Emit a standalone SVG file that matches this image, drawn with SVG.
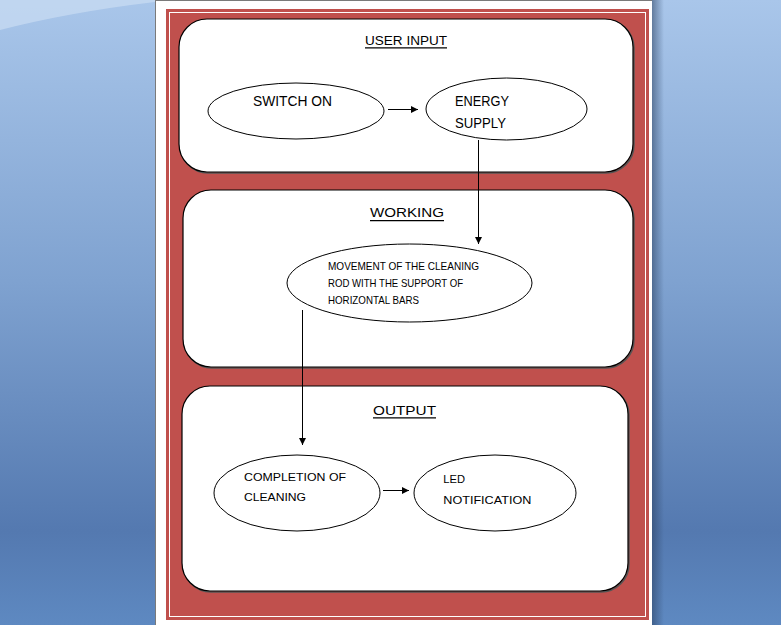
<svg xmlns="http://www.w3.org/2000/svg" width="781" height="625" viewBox="0 0 781 625">
<defs>
<linearGradient id="bg" x1="0" y1="0" x2="0" y2="1">
<stop offset="0" stop-color="#a9c6ea"/>
<stop offset="0.45" stop-color="#7fa2d0"/>
<stop offset="0.85" stop-color="#5479b0"/>
<stop offset="1" stop-color="#5e89c1"/>
</linearGradient>
<linearGradient id="shadowR" x1="0" y1="0" x2="1" y2="0">
<stop offset="0" stop-color="#2a4060" stop-opacity="0.55"/>
<stop offset="1" stop-color="#2a4060" stop-opacity="0"/>
</linearGradient>
<marker id="arr" markerWidth="8" markerHeight="8" refX="7" refY="3.5" orient="auto" markerUnits="userSpaceOnUse">
<path d="M0,0 L7,3.5 L0,7 Z" fill="#000"/>
</marker>
<style>
.box{fill:#fff;stroke:#000;stroke-width:1.2}
.boxsh{fill:none;stroke:#555;stroke-width:1.5}
.ell{fill:#fff;stroke:#000;stroke-width:1}
.t{font-family:"Liberation Sans",Arial,sans-serif;fill:#000}
.title{font-size:13.5px}
.big{font-size:14px}
.sm{font-size:11px}
.md{font-size:11.8px}
.ul{stroke:#000;stroke-width:1.2}
.con{stroke:#000;stroke-width:1;fill:none}
</style>
</defs>
<!-- desktop background -->
<rect x="0" y="0" width="781" height="625" fill="url(#bg)"/>
<path d="M0,0 L155,0 L155,2 Q70,12 0,30 Z" fill="#c6daf1" opacity="0.8"/>
<!-- page -->
<rect x="652" y="0" width="12" height="625" fill="url(#shadowR)"/>
<rect x="155" y="0" width="497" height="625" fill="#fff"/>
<line x1="155.5" y1="0" x2="155.5" y2="625" stroke="#7a7a7a" stroke-width="1"/>
<line x1="155" y1="0.5" x2="652" y2="0.5" stroke="#7a7a7a" stroke-width="1"/>
<!-- red frame -->
<rect x="166" y="9" width="483" height="611" fill="#c0504d"/>
<rect x="169.5" y="12.5" width="476" height="604" fill="none" stroke="#fff" stroke-width="1"/>

<g id="section-user-input">
<rect class="boxsh" x="180" y="20" width="454" height="153" rx="28" ry="28"/>
<rect class="box" x="179" y="19" width="454" height="153" rx="28" ry="28"/>
<text class="t title" x="365" y="45" textLength="82" lengthAdjust="spacingAndGlyphs">USER INPUT</text>
<line class="ul" x1="365" y1="47.8" x2="447" y2="47.8"/>
</g>
<g id="section-working">
<rect class="boxsh" x="184" y="191" width="450" height="177" rx="28" ry="28"/>
<rect class="box" x="183" y="190" width="450" height="177" rx="28" ry="28"/>
<text class="t title" x="370" y="217" textLength="74" lengthAdjust="spacingAndGlyphs">WORKING</text>
<line class="ul" x1="370" y1="220.6" x2="444" y2="220.6"/>
</g>
<g id="section-output">
<rect class="boxsh" x="183" y="387" width="446" height="205" rx="28" ry="28"/>
<rect class="box" x="182" y="386" width="446" height="205" rx="28" ry="28"/>
<text class="t title" x="373" y="415" textLength="63" lengthAdjust="spacingAndGlyphs">OUTPUT</text>
<line class="ul" x1="373" y1="417.8" x2="436" y2="417.8"/>
</g>

<g id="switch-on">
<ellipse class="ell" cx="296" cy="111" rx="88" ry="28"/>
<text class="t big" x="253" y="105.5" textLength="79" lengthAdjust="spacingAndGlyphs">SWITCH ON</text>
</g>
<g id="energy-supply">
<ellipse class="ell" cx="506.5" cy="109" rx="80.5" ry="31"/>
<text class="t big" x="455" y="105.5" textLength="54" lengthAdjust="spacingAndGlyphs">ENERGY</text>
<text class="t big" x="455" y="127.7" textLength="51" lengthAdjust="spacingAndGlyphs">SUPPLY</text>
</g>
<g id="movement">
<ellipse class="ell" cx="409.5" cy="283" rx="122.5" ry="39"/>
<text class="t sm" x="328" y="270" textLength="151" lengthAdjust="spacingAndGlyphs">MOVEMENT OF THE CLEANING</text>
<text class="t sm" x="328" y="287" textLength="135" lengthAdjust="spacingAndGlyphs">ROD WITH THE SUPPORT OF</text>
<text class="t sm" x="328" y="303.7" textLength="91" lengthAdjust="spacingAndGlyphs">HORIZONTAL BARS</text>
</g>
<g id="completion">
<ellipse class="ell" cx="297" cy="493" rx="83" ry="38"/>
<text class="t md" x="244" y="481" textLength="102" lengthAdjust="spacingAndGlyphs">COMPLETION OF</text>
<text class="t md" x="244" y="500.7" textLength="62" lengthAdjust="spacingAndGlyphs">CLEANING</text>
</g>
<g id="led-notification">
<ellipse class="ell" cx="495" cy="493" rx="81" ry="38"/>
<text class="t md" x="443.3" y="482.7" textLength="21.7" lengthAdjust="spacingAndGlyphs">LED</text>
<text class="t md" x="443.3" y="504" textLength="88" lengthAdjust="spacingAndGlyphs">NOTIFICATION</text>
</g>

<g id="connectors">
<line class="con" x1="388" y1="109.5" x2="418" y2="109.5" marker-end="url(#arr)"/>
<line class="con" x1="478.5" y1="140" x2="478.5" y2="244" marker-end="url(#arr)"/>
<line class="con" x1="302.5" y1="310" x2="302.5" y2="445" marker-end="url(#arr)"/>
<line class="con" x1="383" y1="490.5" x2="409" y2="490.5" marker-end="url(#arr)"/>
</g>
</svg>
